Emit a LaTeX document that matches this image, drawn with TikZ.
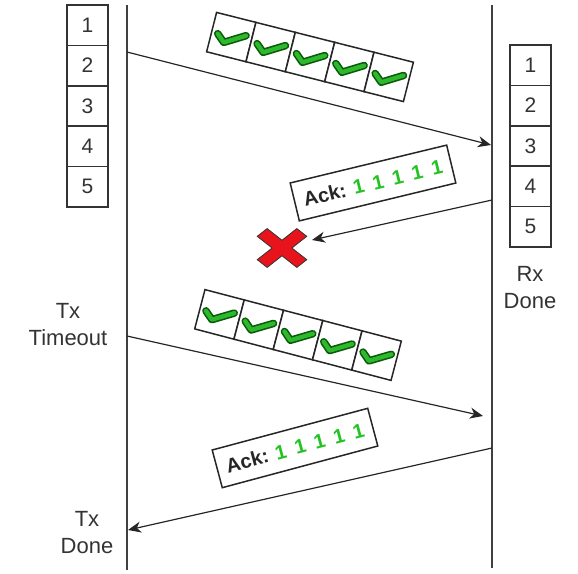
\documentclass[tikz,border=0pt]{standalone}
\usepackage{fontspec}
\setmainfont{Liberation Sans}
\usetikzlibrary{arrows.meta}
\definecolor{txtgray}{HTML}{333333}
\definecolor{tickgreen}{HTML}{2DB82D}
\definecolor{tickdark}{HTML}{0A5A0A}
\definecolor{ackgreen}{HTML}{22C322}
\definecolor{crossred}{HTML}{E8141B}
\newcommand{\ackbits}{\textcolor{ackgreen}{1\hskip9pt1\hskip9pt1\hskip9pt1\hskip9pt1}}
\tikzset{
  lifeline/.style={draw=black!75, line width=1.5pt},
  msg/.style={draw=black!85, line width=1.2pt, -{Stealth[length=13pt,width=11pt,inset=4pt]}},
  bufcell/.style={draw=black!80, line width=1.5pt, fill=white, minimum width=41pt, minimum height=40.4pt, inner sep=0pt, text=txtgray, font=\fontsize{21}{21}\selectfont},
  okcell/.style={draw=black!85, line width=1.5pt, fill=white, minimum size=40.6pt, inner sep=0pt},
  ackbox/.style={draw=black!85, line width=1.5pt, fill=white, minimum width=161pt, minimum height=39pt, inner sep=0pt, font=\bfseries\fontsize{20}{20}\selectfont, text=black!85},
  lbl/.style={text=txtgray, font=\fontsize{22}{27}\selectfont, align=center, inner sep=0pt},
  tick/.pic={
    \draw[tickdark, line width=7.5pt, line cap=round, line join=round] (-14,0) -- (-6,7) -- (14,-5);
    \draw[tickgreen, line width=4.3pt, line cap=round, line join=round] (-14,0) -- (-6,7) -- (14,-5);
  },
}
\begin{document}
\begin{tikzpicture}[x=1pt, y=-1pt]
  \useasboundingbox (0,0) rectangle (578,573);

  % lifelines
  \coordinate (txtop) at (127,5);
  \coordinate (txbot) at (127,570);
  \coordinate (rxtop) at (492,5);
  \coordinate (rxbot) at (492,568);
  \draw[lifeline] (txtop) -- (txbot);
  \draw[lifeline] (rxtop) -- (rxbot);

  % send and receive buffers
  \foreach \i in {1,...,5} {
    \node[bufcell] (txbuf\i) at (87.5,{5+20.2+(\i-1)*40.4}) {\i};
    \node[bufcell] (rxbuf\i) at (530.5,{45+20.2+(\i-1)*40.4}) {\i};
  }

  \coordinate (txA) at (127,52);
  \coordinate (rxA) at (491,145);
  \coordinate (rxB) at (492,200);
  \coordinate (lostA) at (312,240);
  \coordinate (txB) at (127,336);
  \coordinate (rxC) at (483,416);
  \coordinate (rxD) at (492,448);
  \coordinate (txC) at (128,530);

  \draw[msg] (txA) -- (rxA);
  \draw[msg] (rxB) -- (lostA);
  \draw[msg] (txB) -- (rxC);
  \draw[msg] (rxD) -- (txC);

  % packets on the wire
  \begin{scope}[shift={(310,57)}, rotate=-14.2, transform shape]
    \foreach \i in {1,...,5} {
      \node[okcell] (okA\i) at ({(\i-3)*40.6},0) {};
      \pic at (okA\i) {tick};
    }
  \end{scope}
  \begin{scope}[shift={(298,335)}, rotate=-14.7, transform shape]
    \foreach \i in {1,...,5} {
      \node[okcell] (okB\i) at ({(\i-3)*40.6},0) {};
      \pic at (okB\i) {tick};
    }
  \end{scope}

  \node[ackbox, rotate=13.6] (ackA) at (373,183) {Ack: \ackbits};
  \node[ackbox, rotate=15] (ackB) at (295,448) {Ack: \ackbits};

  % lost ack
  \begin{scope}[shift={(282,248)}, xscale=1.4, yscale=1.1]
    \filldraw[fill=crossred, draw=black!80, line width=0.8pt, rotate=45]
      (-5,20) -- (5,20) -- (5,5) -- (20,5) -- (20,-5) -- (5,-5) -- (5,-20)
      -- (-5,-20) -- (-5,-5) -- (-20,-5) -- (-20,5) -- (-5,5) -- cycle;
  \end{scope}

  \node[lbl] (txtimeout) at (68,325) {Tx\\Timeout};
  \node[lbl] (rxdone) at (530,288) {Rx\\Done};
  \node[lbl] (txdone) at (87,533) {Tx\\Done};
\end{tikzpicture}
\end{document}
